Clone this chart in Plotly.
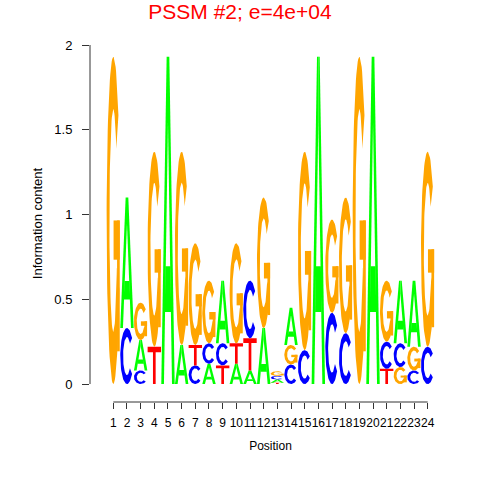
import numpy as np
import plotly.graph_objects as go

# ---- data: information content (bits) per nucleotide at each position ----
positions = list(range(1, 25))
tick_labels = [str(p) for p in positions]
A_bits = [0, .77, .18, 0, 1.93, .23, 0, .12, .37, .12, .08, .33, .018, .22, 0, 1.93, 0, 0, 0, 1.93, 0, .37, .39, 0]
C_bits = [0, .33, .08, 0, 0, 0, .11, .12, .13, 0, .34, 0, .022, .115, .20, 0, .42, .30, 0, 0, .16, .14, .08, .22]
G_bits = [1.93, 0, .22, 1.15, 0, 1.14, .60, .37, 0, .59, 0, .77, .027, .115, 1.17, 0, .55, .80, 1.93, 0, .36, .10, .14, 1.15]
T_bits = [0, 0, 0, .22, 0, 0, .12, 0, .11, .12, .19, 0, .008, 0, 0, 0, 0, 0, 0, 0, .09, 0, 0, 0]
y_ticks = [0, 0.5, 1, 1.5, 2]
y_tick_labels = ["0", "0.5", "1", "1.5", "2"]
title_text = "PSSM #2; e=4e+04"

COLORS = {"A": "#00FF00", "C": "#0000FF", "G": "#FFA500", "T": "#FF0000"}


# ---- unit glyph outlines (style) ----
def arc_band(a0, a1, rxo=0.5, ryo=0.5, rxi=0.29, ryi=0.34, n=70):
    t = np.radians(np.linspace(a0, a1, n))
    xo = 0.5 + rxo * np.cos(t)
    yo = 0.5 + ryo * np.sin(t)
    xi = 0.5 + rxi * np.cos(t[::-1])
    yi = 0.5 + ryi * np.sin(t[::-1])
    return np.concatenate([xo, xi]), np.concatenate([yo, yi])


def poly(pts):
    a = np.array(pts, dtype=float)
    return a[:, 0], a[:, 1]


GLYPHS = {
    "A": [
        poly([(0, 0), (0.2, 0), (0.5, 0.8), (0.5, 1), (0.4, 1)]),
        poly([(1, 0), (0.8, 0), (0.5, 0.8), (0.5, 1), (0.6, 1)]),
        poly([(0.26, 0.22), (0.74, 0.22), (0.69, 0.36), (0.31, 0.36)]),
    ],
    "C": [arc_band(40, 320)],
    "G": [
        arc_band(40, 335),
        poly([(0.52, 0.38), (0.98, 0.38), (0.98, 0.5), (0.52, 0.5)]),
        poly([(0.78, 0.1), (0.98, 0.1), (0.98, 0.5), (0.78, 0.5)]),
    ],
    "T": [poly([(0, 1), (1, 1), (1, 0.85), (0.6, 0.85), (0.6, 0), (0.4, 0), (0.4, 0.85), (0, 0.85)])],
}

bits = {"A": A_bits, "C": C_bits, "G": G_bits, "T": T_bits}
W = 0.98

fig = go.Figure()
for i, pos in enumerate(positions):
    col = [(b, bits[b][i]) for b in "ACGT" if bits[b][i] > 0]
    col.sort(key=lambda t: t[1])
    y0 = 0.0
    for base, h in col:
        for gx, gy in GLYPHS[base]:
            fig.add_trace(go.Scatter(
                x=pos - W / 2 + W * gx, y=y0 + h * gy,
                mode="lines", fill="toself", fillcolor=COLORS[base],
                line=dict(width=0, color=COLORS[base]),
                hoverinfo="skip", showlegend=False))
        y0 += h

FONT = "Liberation Sans, Arial, Helvetica, sans-serif"
fig.update_layout(
    width=480, height=480,
    margin=dict(l=90, r=29, t=45, b=78, autoexpand=False),
    paper_bgcolor="white", plot_bgcolor="white",
    font=dict(family=FONT, size=12, color="black"),
    title=dict(text=title_text, font=dict(family=FONT, size=21, color="#FF0000"),
               x=0.5, xanchor="center", xref="container",
               y=1 - 12 / 480, yanchor="middle", yref="container", automargin=False),
    showlegend=False,
    xaxis=dict(range=[-0.705, 25.705], tickmode="array", tickvals=positions, ticktext=tick_labels,
               ticks="outside", ticklen=6, tickcolor="#333", tickwidth=1, tickangle=0,
               showline=False, showgrid=False, zeroline=False, automargin=False,
               tickfont=dict(size=12, color="black"), ticklabelstandoff=4,
               title=dict(text="Position", font=dict(size=12), standoff=12)),
    yaxis=dict(range=[-0.106, 2.0], tickmode="array", tickvals=y_ticks, ticktext=y_tick_labels,
               ticks="outside", ticklen=7, tickcolor="#333", tickwidth=1,
               showline=False, showgrid=False, zeroline=False, automargin=False,
               tickfont=dict(size=13, color="black"), ticklabelstandoff=7,
               title=dict(text="Information content", font=dict(size=13), standoff=8)),
    shapes=[
        dict(type="line", xref="paper", yref="y", x0=0, x1=0, y0=0, y1=2,
             line=dict(color="#333", width=1), layer="above"),
        dict(type="line", xref="x", yref="paper", x0=1, x1=24, y0=0, y1=0,
             line=dict(color="#333", width=1), layer="above"),
    ],
)

fig.write_html("out.html", config={"displayModeBar": False},
               post_script="document.body.style.margin='0';")
